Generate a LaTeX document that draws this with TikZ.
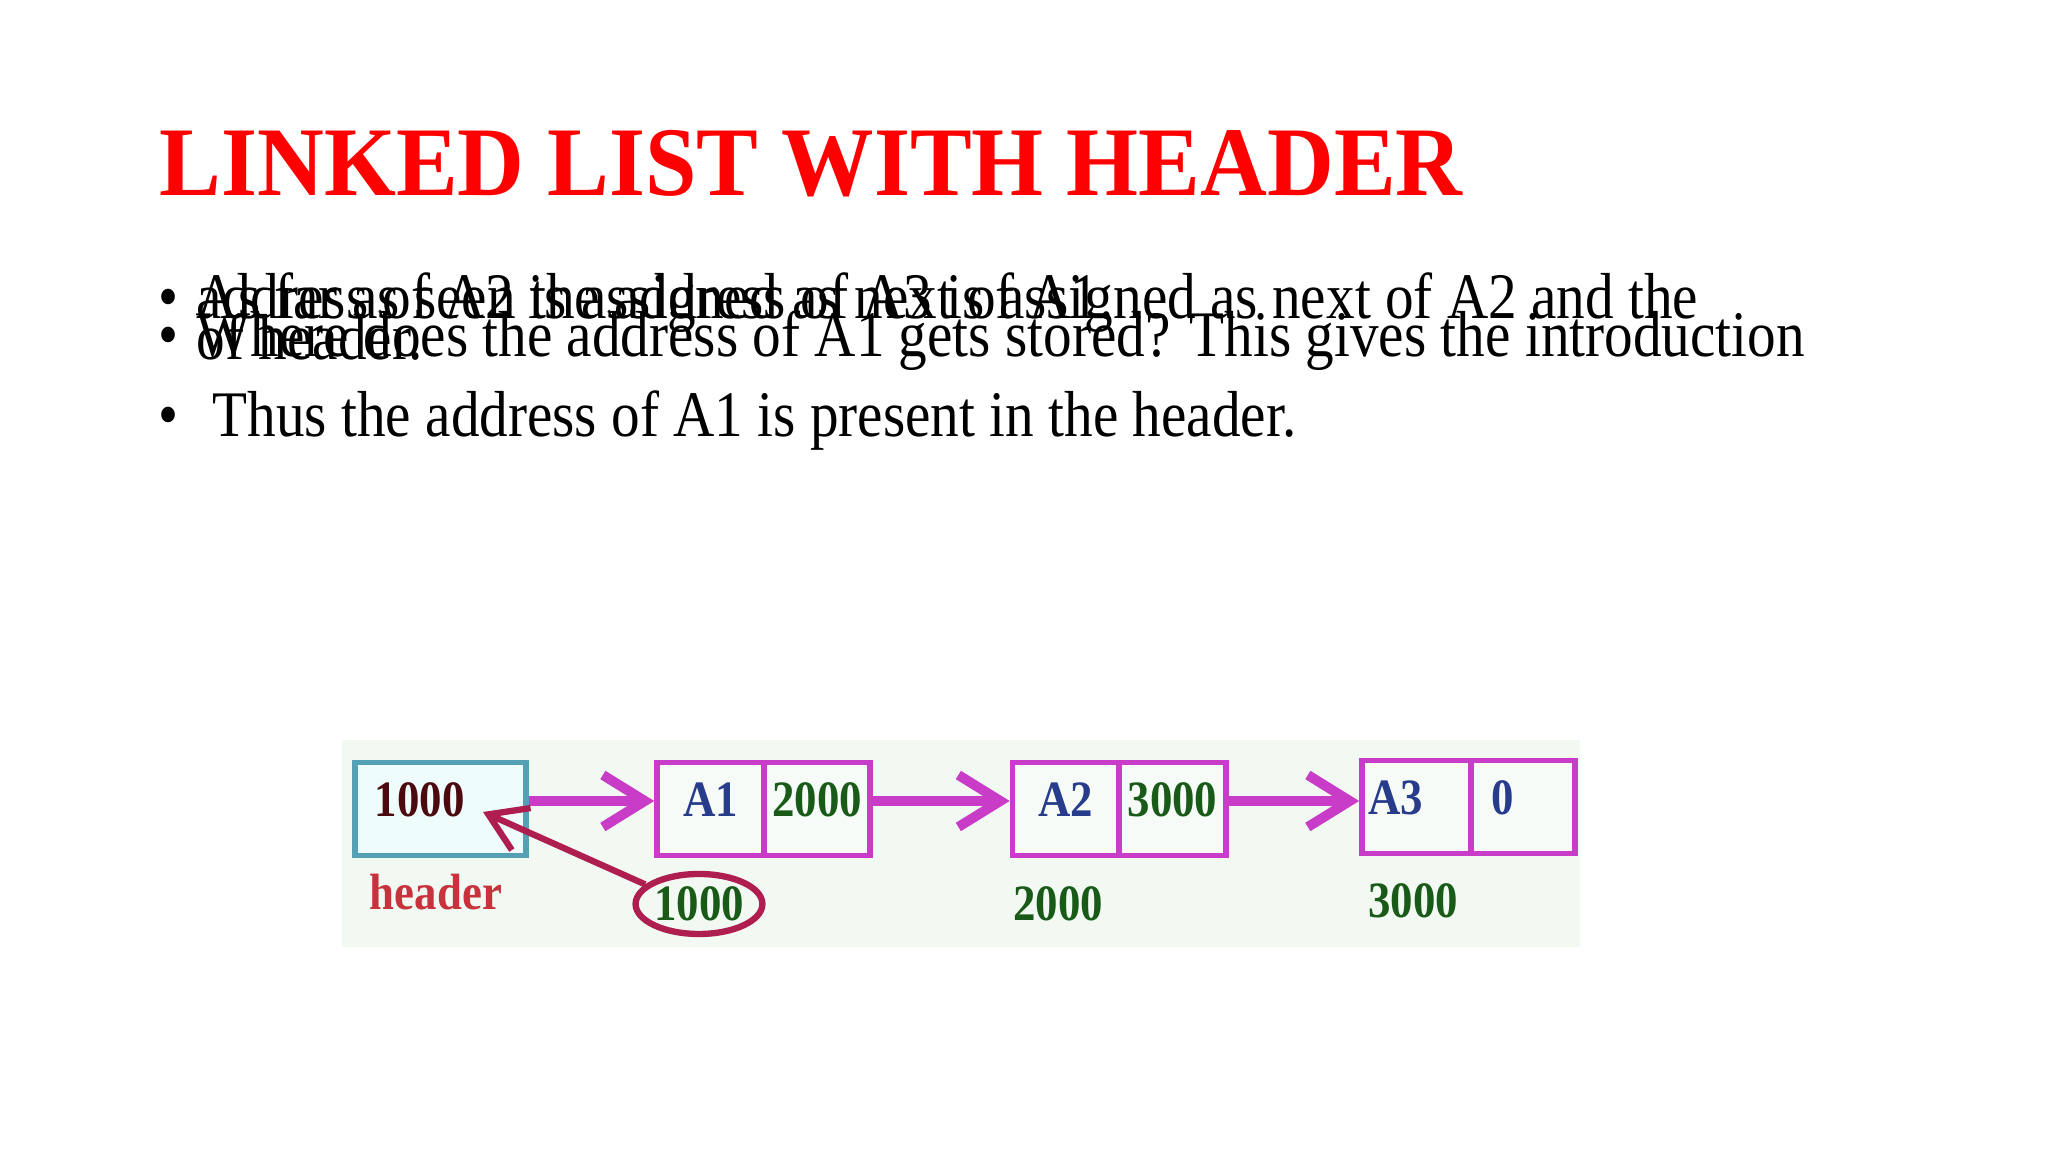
\documentclass[tikz,border=0pt]{standalone}
\usepackage{fontspec}
\setmainfont{Liberation Serif}
\newfontfamily\slidefont[FakeStretch=0.88]{Liberation Serif}
\newfontfamily\headfont[FakeStretch=0.94]{Liberation Serif}
\usepackage{xcolor}
\usepackage{tikz}
\usetikzlibrary{arrows.meta,shapes.geometric}

\definecolor{titlered}{RGB}{255,0,0}
\definecolor{listmag}{RGB}{200,60,200}
\definecolor{hdrteal}{RGB}{85,160,180}
\definecolor{hdrfill}{RGB}{238,252,252}
\definecolor{hdrmaroon}{RGB}{75,10,15}
\definecolor{hdrlabel}{RGB}{200,50,60}
\definecolor{valblue}{RGB}{40,60,140}
\definecolor{addrgreen}{RGB}{25,90,25}
\definecolor{ellcrimson}{RGB}{175,30,80}
\definecolor{diagbg}{RGB}{242,249,242}
\definecolor{cellfill}{RGB}{247,251,247}
\newcommand{\diagfont}{\slidefont\bfseries\fontsize{14.5}{16}\selectfont}

\begin{document}
\begin{tikzpicture}[x=1cm,y=1cm,>=Latex,
  slidebody/.style={anchor=base west,inner sep=0pt,font=\slidefont\fontsize{18.5}{20}\selectfont},
  cell/.style={draw=listmag,line width=1.6pt,fill=cellfill,minimum width=1.07cm,minimum height=0.93cm,
    inner sep=0pt,text height=0.35cm,text depth=0.2cm,font=\diagfont},
  leftcell/.style={cell,align=left,inner xsep=0.06cm,text width=0.95cm},
  addr/.style={font=\diagfont,text=addrgreen,inner sep=0pt},
  nextarrow/.style={-{Straight Barb[length=0.42cm,width=0.52cm]},draw=listmag,line width=2.8pt},
  backarrow/.style={-{Straight Barb[length=0.36cm,width=0.46cm]},draw=ellcrimson,line width=1.8pt}
]
  \useasboundingbox[fill=white] (0,0) rectangle (20.48,11.52);

  \node[anchor=base west,inner sep=0pt,text=titlered,font=\headfont\bfseries\fontsize{28}{30}\selectfont]
    (title) at (1.59,9.56) {LINKED LIST WITH HEADER};

  % bullets (first two lines print on top of each other)
  \node[slidebody] (dot1) at (1.58,8.33) {•};
  \node[slidebody] (l1a) at (1.96,8.33) {As far as seen the address of A3 is assigned as next of A2 and the};
  \node[slidebody] (l1b) at (1.96,8.33) {address of A2 is assigned as next of A1.};
  \node[slidebody] (dot2) at (1.58,7.95) {•};
  \node[slidebody] (l2a) at (1.96,7.95) {Where does the address of A1 gets stored? This gives the introduction};
  \node[slidebody] (l2b) at (1.96,7.92) {of header.};
  \node[slidebody] (dot3) at (1.58,7.15) {•};
  \node[slidebody] (l3) at (2.12,7.15) {Thus the address of A1 is present in the header.};

  % list picture
  \fill[diagbg] (3.42,2.05) rectangle (15.80,4.12);

  \node[leftcell,draw=hdrteal,fill=hdrfill,minimum width=1.71cm,text width=1.31cm,inner xsep=0.2cm,text=hdrmaroon]
    (hdr) at (4.405,3.43) {1000};
  \node[font=\diagfont,text=hdrlabel,inner sep=0pt] (hdrname) at (4.36,2.60) {header};

  \node[cell,text=valblue] (a1d) at (7.105,3.43) {A1};
  \node[cell,minimum width=1.06cm,text=addrgreen] (a1n) at (8.17,3.43) {2000};
  \node[cell,text=valblue] (a2d) at (10.66,3.43) {A2};
  \node[cell,minimum width=1.07cm,text=addrgreen] (a2n) at (11.725,3.43) {3000};
  \node[leftcell,minimum width=1.09cm,text width=0.97cm,text=valblue] (a3d) at (14.165,3.45) {A3};
  \node[leftcell,minimum width=1.04cm,text width=0.64cm,inner xsep=0.2cm,text=valblue] (a3n) at (15.23,3.45) {0};

  \node[ellipse,draw=ellcrimson,line width=1.8pt,minimum width=1.2cm,minimum height=0.6cm,addr] (a1addr) at (6.99,2.48) {1000};
  \node[addr] (a2addr) at (10.58,2.48) {2000};
  \node[addr] (a3addr) at (14.13,2.51) {3000};

  \draw[nextarrow] ([yshift=0.08cm]hdr.east) -- ([yshift=0.08cm]a1d.west);
  \draw[nextarrow] ([yshift=0.08cm]a1n.east) -- ([yshift=0.08cm]a2d.west);
  \draw[nextarrow] ([yshift=0.08cm]a2n.east) -- ([yshift=0.06cm]a3d.west);

  \coordinate (hdrval) at (4.83,3.40);
  \draw[backarrow] (a1addr.160) -- (hdrval);
\end{tikzpicture}
\end{document}
